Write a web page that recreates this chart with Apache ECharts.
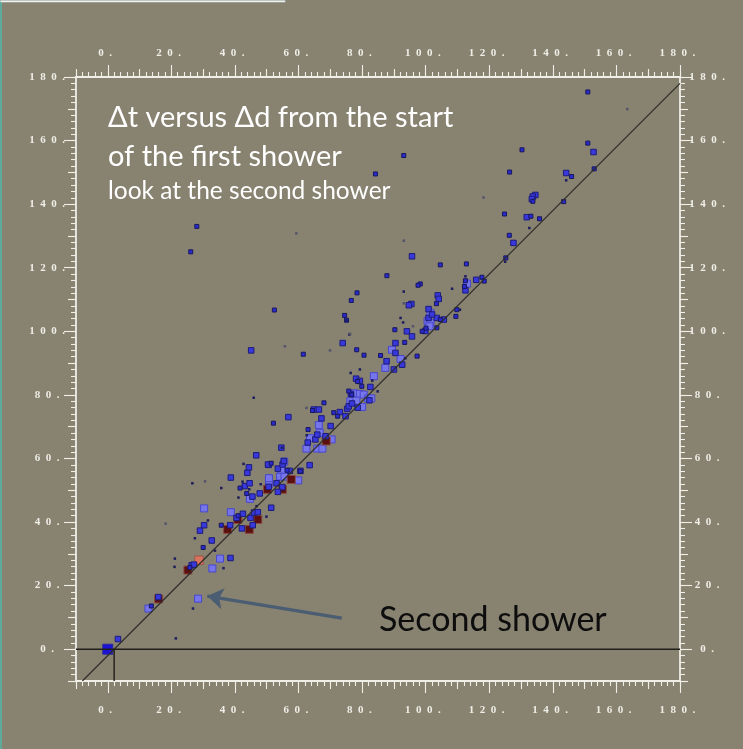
<!DOCTYPE html>
<html>
<head>
<meta charset="utf-8">
<title>Δt versus Δd</title>
<script src="https://cdn.jsdelivr.net/npm/echarts@6/dist/echarts.min.js"></script>
<style>
  html, body { margin: 0; padding: 0; background: #888270; }
  #chart { width: 743px; height: 749px; }
</style>
</head>
<body>
<div id="chart"></div>
<script>
// ---- axis ticks ----------------------------------------------------------
const axisMin = -10;
const axisMax = 180;
const majorTicks = [0, 20, 40, 60, 80, 100, 120, 140, 160, 180];
const midTicks = [-10, 10, 30, 50, 70, 90, 110, 130, 150, 170];
const minorTicks = [];
for (let v = -10; v <= 180; v += 2) minorTicks.push(v);

// ---- reference lines (Δt = Δd shifted to the shower start) ---------------
const diagonal = [[-8, -10], [180, 178]];
const zeroLine = [[-10, 0], [180, 0]];
const startMark = [[2, 0], [2, -10]];
const arrowFrom = [73.6, 9.8];
const arrowTo = [31.3, 16.7];

// ---- hits: [Δd, Δt] -------------------------------------------------------
const originHit = [[0, 0]];

const redHits = [[16.0,15.8],[25.2,24.9],[37.7,37.7],[40.9,40.8],[44.5,37.7],[47.2,40.8],
  [50.2,50.3],[54.9,50.3],[57.7,53.4],[68.7,65.5]];

const salmonHits = [[28.7,28.0]];

const lightHits = [[12.8,12.8],[28.4,15.9],[32.9,25.4],[35.3,28.5],[30.3,44.3],[38.7,43.1],
  [44.7,47.3],[50.7,52.0],[50.7,53.8],[54.2,54.3],[55.6,54.3],[59.9,53.1],[55.5,59.0],
  [62.5,63.1],[65.9,63.1],[67.5,63.1],[63.6,66.4],[66.7,68.1],[70.4,66.0],[66.4,70.5],
  [77.6,80.5],[79.3,80.3],[80.5,80.1],[81.9,78.9],[82.9,78.9],[80.0,76.2],[76.3,78.0],
  [78.2,78.2],[83.7,85.9],[87.3,88.5],[89.4,94.2],[92.1,91.3],[101.5,105.8],[100.6,103.2],
  [101.5,102.7],[101.2,101.6],[113.0,115.0],[54.7,56.5]];

const blueHits = [[3.2,3.2],[15.9,16.4],[26.4,26.4],[27.1,26.6],[38.6,28.7],[32.7,34.2],
  [29.0,37.3],[30.3,39.0],[38.5,39.0],[40.5,41.3],[42.2,38.0],[45.6,39.0],[44.9,41.3],
  [42.5,42.6],[46.0,43.0],[47.2,43.1],[51.4,44.5],[45.5,48.0],[47.8,49.0],[38.7,54.0],
  [43.1,51.3],[44.6,52.2],[50.6,51.1],[54.9,51.0],[53.5,49.5],[53.1,52.2],[50.6,58.0],
  [53.5,56.8],[55.0,58.1],[54.6,63.4],[46.7,61.0],[43.9,55.5],[44.4,57.2],[50.4,58.1],
  [55.4,59.2],[57.3,56.1],[60.6,56.1],[63.5,57.9],[62.9,65.0],[65.3,66.0],[65.9,67.5],
  [68.5,67.0],[70.1,70.2],[67.2,72.6],[64.8,75.4],[66.4,75.4],[56.8,73.0],[73.0,74.6],
  [74.8,73.3],[75.3,75.6],[75.8,76.4],[76.8,77.3],[78.6,76.0],[82.3,78.3],[76.5,80.3],
  [82.6,82.5],[78.1,85.1],[79.3,84.4],[87.7,90.6],[90.5,96.3],[90.0,88.0],[90.5,93.2],
  [92.6,89.5],[94.1,100.0],[95.7,98.4],[99.9,100.1],[100.9,104.2],[103.5,104.2],
  [105.7,103.7],[100.9,107.0],[102.0,105.3],[103.8,111.3],[104.1,110.2],[95.5,108.6],
  [94.7,108.2],[112.5,112.9],[115.9,116.2],[95.7,123.6],[127.6,127.8],[131.8,135.9],
  [134.5,142.9],[133.7,142.4],[133.4,141.6],[144.2,149.8],[152.8,156.4],[45.1,94.0],
  [73.9,96.3]];

const smallHits = [[13.7,13.6],[25.8,25.7],[30.0,32.0],[35.7,39.0],[41.0,42.0],[43.7,49.0],
  [41.6,50.7],[51.4,58.5],[56.4,56.3],[60.6,56.0],[63.0,69.1],[68.0,77.5],[71.1,74.4],
  [72.3,73.3],[76.7,80.1],[79.9,82.7],[78.6,84.2],[64.4,75.1],[52.1,71.1],[61.5,92.8],
  [75.1,103.5],[78.3,94.2],[80.6,92.5],[85.8,92.4],[90.3,100.5],[75.8,81.2],[93.1,155.3],
  [84.2,149.5],[126.4,150.1],[130.3,157.1],[145.9,148.7],[153.0,151.1],[143.4,140.8],
  [133.7,140.9],[124.8,136.9],[133.1,136.2],[135.8,135.4],[126.3,130.2],[104.6,120.9],
  [112.8,121.2],[125.2,123.1],[87.8,117.5],[117.7,117.0],[118.4,115.8],[112.5,115.9],
  [112.2,114.1],[98.3,114.9],[97.6,114.5],[78.4,112.1],[76.6,109.7],[103.4,108.7],
  [109.8,106.8],[109.5,104.7],[104.6,103.7],[103.5,101.1],[98.9,100.0],[100.1,101.0],
  [74.5,105.0],[93.4,96.5],[97.3,92.2],[28.0,133.0],[26.1,125.0],[52.4,106.7],
  [151.0,175.3],[151.0,159.2]];

const tinyHits = [[21.4,3.4],[26.8,12.8],[21.0,25.9],[21.1,28.5],[36.4,25.5],[33.7,31.0],
  [27.4,34.9],[31.5,40.5],[49.9,41.7],[46.8,45.0],[44.5,50.3],[41.1,47.7],[35.7,50.7],
  [42.4,52.7],[26.6,52.2],[48.1,51.9],[42.7,58.3],[54.8,63.4],[84.9,81.1],[62.6,67.3],
  [76.0,99.0],[76.4,86.9],[79.3,88.0],[83.2,84.5],[45.9,79.1],[144.2,147.5],[132.6,132.5],
  [125.0,121.9],[112.5,117.3],[108.3,113.4],[93.1,112.5],[110.8,106.8],[92.1,104.2],
  [92.9,102.8],[75.1,103.4],[93.6,91.5]];

const faintHits = [[18.2,39.5],[30.6,52.8],[62.5,75.9],[55.7,95.3],[69.9,94.0],[118.2,142.1],
  [93.1,128.5],[93.1,108.8],[96.0,101.6],[76.2,99.2],[59.3,130.8],[163.4,169.9]];

// ---- styling ---------------------------------------------------------------
const FRAME = '#efeee7';
const SPACER = '\u2002';
const labelFont = { fontFamily: 'Liberation Serif', fontWeight: 'bold', fontSize: 11, color: FRAME };

function spaced(v, trailing) {
  const s = String(v) + '.';
  return s.split('').join(SPACER) + (trailing ? SPACER : '');
}

function axisLayer(position, ticks, len, withLabel, withLine, margin) {
  const isX = position === 'top' || position === 'bottom';
  const ax = {
    type: 'value',
    min: axisMin,
    max: axisMax,
    position: position,
    gridIndex: 0,
    splitLine: { show: false },
    axisLine: { show: withLine, onZero: false, lineStyle: { color: FRAME, width: 1.8 } },
    axisTick: { show: true, inside: false, length: len, customValues: ticks,
                lineStyle: { color: FRAME, width: 1.1 } },
    axisLabel: { show: false }
  };
  if (withLabel) {
    ax.axisLabel = Object.assign({
      show: true,
      customValues: ticks,
      margin: margin,
      formatter: v => spaced(v, isX)
    }, labelFont, isX ? {} : { align: 'center' });
  }
  return ax;
}

const xAxes = [
  axisLayer('bottom', majorTicks, 12, true, true, 24),
  axisLayer('bottom', midTicks, 8, false, false),
  axisLayer('bottom', minorTicks, 5, false, false),
  axisLayer('top', majorTicks, 12, true, true, 18),
  axisLayer('top', midTicks, 8, false, false),
  axisLayer('top', minorTicks, 5, false, false)
];
const yAxes = [
  axisLayer('left', majorTicks, 12, true, true, 29),
  axisLayer('left', midTicks, 8, false, false),
  axisLayer('left', minorTicks, 5, false, false),
  axisLayer('right', majorTicks, 12, true, true, 27),
  axisLayer('right', midTicks, 8, false, false),
  axisLayer('right', minorTicks, 5, false, false)
];

function hits(name, data, size, fill, border, bw) {
  return {
    name: name, type: 'scatter', xAxisIndex: 0, yAxisIndex: 0,
    symbol: 'rect', symbolSize: size, data: data, silent: true,
    itemStyle: { color: fill, borderColor: border, borderWidth: bw, opacity: 1 }
  };
}

function refLine(data, color, width) {
  return {
    type: 'line', xAxisIndex: 0, yAxisIndex: 0, data: data, symbol: 'none',
    silent: true, animation: false,
    lineStyle: { color: color, width: width }
  };
}

const chart = echarts.init(document.getElementById('chart'), null, { renderer: 'canvas' });
chart.setOption({
  animation: false,
  backgroundColor: '#888270',
  grid: { left: 76, top: 77, right: 63, bottom: 68, containLabel: false },
  xAxis: xAxes,
  yAxis: yAxes,
  series: [
    refLine(diagonal, '#2e2d28', 1.2),
    refLine(zeroLine, '#1f1e1a', 1.4),
    Object.assign(refLine(startMark, '#1f1e1a', 1.4), {
      markLine: {
        silent: true, symbol: ['none', 'arrow'], symbolSize: [16, 16],
        label: { show: false },
        lineStyle: { color: '#4b5d72', width: 3.2, type: 'solid' },
        data: [[{ coord: arrowFrom }, { coord: arrowTo }]]
      }
    }),
    hits('light', lightHits, 7, '#7676ea', '#4848cc', 1),
    hits('red', redHits, 8, '#5c0f0f', '#8a4c42', 1),
    hits('salmon', salmonHits, 8.5, '#d8735f', '#9e5648', 1),
    hits('blue', blueHits, 5.5, '#3838dc', '#1c1c7a', 1),
    hits('small', smallHits, 4, '#2a2ad0', '#17175c', 1),
    hits('tiny', tinyHits, 2.5, '#1c1c5e', '#1c1c5e', 0),
    hits('faint', faintHits, 2.5, '#54546c', '#54546c', 0),
    hits('origin', originHit, 10, '#1c12d6', '#2a2a9c', 1)
  ],
  graphic: [
    { type: 'rect', left: 0, top: 0, shape: { width: 2, height: 749 }, style: { fill: '#5fa99b' } },
    { type: 'rect', left: 0, top: 0, shape: { width: 285, height: 2 }, style: { fill: '#ffffff', stroke: '#8a9a94', lineWidth: 0.5 } },
    { type: 'text', left: 108, top: 103, style: { text: 'Δt versus Δd from the start', fill: '#ffffff', font: '29px Lato' } },
    { type: 'text', left: 108, top: 142, style: { text: 'of the first shower', fill: '#ffffff', font: '29px Lato' } },
    { type: 'text', left: 108, top: 179, style: { text: 'look at the second shower', fill: '#ffffff', font: '24.5px Lato' } },
    { type: 'text', left: 379, top: 603, style: { text: 'Second shower', fill: '#0d0d0d', font: '34px Lato' } }
  ]
});
</script>
</body>
</html>
